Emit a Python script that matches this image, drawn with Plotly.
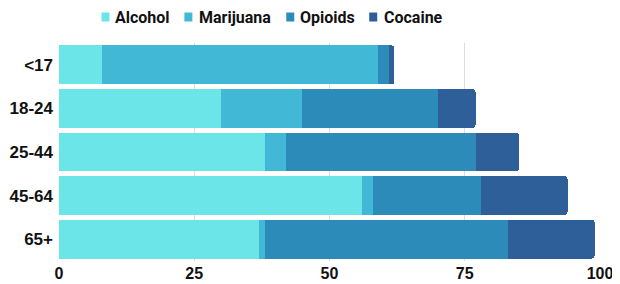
import plotly.graph_objects as go

categories = ["<17", "18-24", "25-44", "45-64", "65+"]
alcohol = [8, 30, 38, 56, 37]
marijuana = [51, 15, 4, 2, 1]
opioids = [2, 25, 35, 20, 45]
cocaine = [1, 7, 8, 16, 16]
series_names = ["Alcohol", "Marijuana", "Opioids", "Cocaine"]
colors = ["#6ce5e8", "#41b8d5", "#2d8bba", "#2f5f98"]
tick_vals = [0, 25, 50, 75, 100]

# page body has an 8px margin; the figure is sized so it fills the window
OFF = 8
W, H = 620 - OFF, 284 - OFF
ML, MR, MT, MB = 58.5 - OFF, 20, 43 - OFF, 23
PW, PH = W - ML - MR, H - MT - MB

fig = go.Figure()
for name, vals, c in zip(series_names, [alcohol, marijuana, opioids, cocaine], colors):
    fig.add_trace(go.Bar(
        y=categories, x=vals, name=name, orientation="h",
        marker=dict(color=c, line=dict(width=0)),
    ))

# custom legend (layout only): square swatch + label, page pixel positions
legend_marker_px = [101, 184, 286, 369]
legend_text_px = [115, 199, 300, 384]
sw = 8
cy = 17
for name, c, mx, tx in zip(series_names, colors, legend_marker_px, legend_text_px):
    fig.add_shape(type="rect", xref="paper", yref="paper",
                  x0=(mx - OFF - ML) / PW, x1=(mx + sw - OFF - ML) / PW,
                  y0=(MT + PH - (cy - OFF + 4.5)) / PH, y1=(MT + PH - (cy - OFF - 4.5)) / PH,
                  fillcolor=c, line=dict(width=0))
    fig.add_annotation(text=name, xref="paper", yref="paper",
                       x=(tx - OFF - 2 - ML) / PW, y=(MT + PH - (cy - OFF)) / PH,
                       xanchor="left", yanchor="middle", showarrow=False,
                       font=dict(family="Roboto", size=16, weight="bold", color="#111111"))

fig.update_layout(
    barmode="stack",
    bargap=0.11,
    barcornerradius=3,
    width=W, height=H,
    margin=dict(l=ML, r=MR, t=MT, b=MB, autoexpand=False),
    paper_bgcolor="white", plot_bgcolor="white",
    font=dict(family="Liberation Sans", size=16, color="#111111", weight="bold"),
    showlegend=False,
    xaxis=dict(range=[0, 100], tickvals=tick_vals, showgrid=True, gridcolor="#dddddd",
               gridwidth=1, zeroline=False, showline=False, ticks="",
               automargin=False, ticklabelstandoff=1,
               tickfont=dict(size=16, weight="bold")),
    yaxis=dict(autorange="reversed", showgrid=False, ticks="", showline=False,
               automargin=False, ticklabelstandoff=5,
               tickfont=dict(size=17, weight="bold")),
)

fig.write_html("out.html")
